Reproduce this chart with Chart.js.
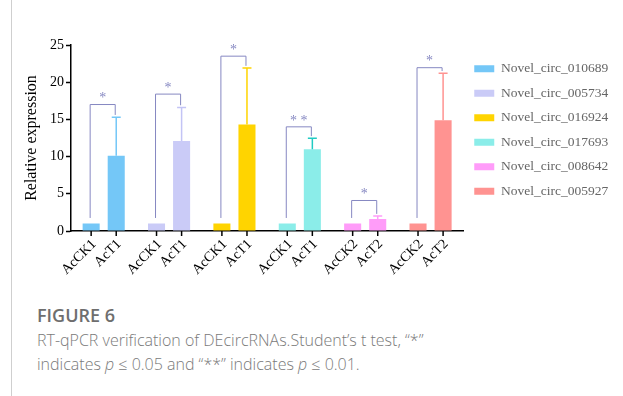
<!DOCTYPE html>
<html>
<head>
<meta charset="utf-8">
<script src="https://cdn.jsdelivr.net/npm/chart.js@4"></script>
<style>
  html, body { margin: 0; padding: 0; background: #fff; }
  body { width: 623px; height: 396px; position: relative; overflow: hidden; }
  #edge { position: absolute; left: 11px; top: 0; width: 1px; height: 396px; background: #cfcfcf; }
  #wrap { position: absolute; left: 0; top: 0; width: 623px; height: 295px; }
  #caption { position: absolute; left: 37px; top: 302px; font-family: "Open Sans", sans-serif; color: #7a7a7a; }
  #caption .fig { font-size: 18px; font-weight: 600; color: #6e6e6e; line-height: 26px; }
  #caption .txt { font-size: 16px; line-height: 24px; font-weight: 300; }
</style>
</head>
<body>
<div id="edge"></div>
<div id="wrap"><canvas id="qpcrChart" width="623" height="295"></canvas></div>
<div id="caption">
  <div class="fig">FIGURE 6</div>
  <div class="txt">RT-qPCR verification of DEcircRNAs.Student’s t test, “*”<br>indicates <i>p</i> ≤ 0.05 and “**” indicates <i>p</i> ≤ 0.01.</div>
</div>
<script>
// dados
const genes = ['Novel_circ_010689', 'Novel_circ_005734', 'Novel_circ_016924', 'Novel_circ_017693', 'Novel_circ_008642', 'Novel_circ_005927'];
const ckLabels = ['AcCK1', 'AcCK1', 'AcCK1', 'AcCK1', 'AcCK2', 'AcCK2'];
const tLabels = ['AcT1', 'AcT1', 'AcT1', 'AcT1', 'AcT2', 'AcT2'];
const ckValues = [1, 1, 1, 1, 1, 1];
const ckErrors = [0, 0, 0, 0, 0, 0];
const tValues = [10.1, 12.1, 14.3, 11.0, 1.6, 14.9];
const tErrors = [5.2, 4.5, 7.6, 1.45, 0.4, 6.3];
const sigMarks = ['*', '*', '*', '**', '*', '*'];
const sigHeights = [17.0, 18.4, 23.5, 14.0, 4.1, 21.95];
const yTicks = [0, 5, 10, 15, 20, 25];

// cores
const barColors = ['#74C7F7', '#CACBF7', '#FFD400', '#8BEDE9', '#FF9CF9', '#FF9391'];
const errColors = ['#74C7F7', '#C3C4F5', '#FFD400', '#20CBC3', '#FF9CF9', '#FF9391'];
const bracketColor = '#8688C2';
const serif = 'Liberation Serif';

// barras de erro, chaves de significância e rótulos do eixo x
const extras = {
    id: 'extras',
    afterDatasetsDraw(chart) {
        const ctx = chart.ctx;
        const y = chart.scales.y;
        const ck = chart.getDatasetMeta(0).data;
        const tr = chart.getDatasetMeta(1).data;
        const axisY = chart.chartArea.bottom;
        ctx.save();
        // erro
        [[ck, ckValues, ckErrors], [tr, tValues, tErrors]].forEach(([els, vals, errs]) => {
            els.forEach((el, i) => {
                if (!errs[i]) return;
                const top = y.getPixelForValue(vals[i] + errs[i]);
                ctx.strokeStyle = errColors[i];
                ctx.lineWidth = 1.5;
                ctx.beginPath();
                ctx.moveTo(el.x, el.y);
                ctx.lineTo(el.x, top);
                ctx.moveTo(el.x - 4.5, top);
                ctx.lineTo(el.x + 4.5, top);
                ctx.stroke();
            });
        });
        // chaves
        ck.forEach((el, i) => {
            const x1 = el.x - 1, x2 = tr[i].x - 1;
            const top = y.getPixelForValue(sigHeights[i]);
            const left = y.getPixelForValue(ckValues[i] + 0.75);
            const right = y.getPixelForValue(tValues[i] + tErrors[i] + 0.3);
            ctx.strokeStyle = bracketColor;
            ctx.lineWidth = 1;
            ctx.beginPath();
            ctx.moveTo(x1, left);
            ctx.lineTo(x1, top);
            ctx.lineTo(x2, top);
            ctx.lineTo(x2, right);
            ctx.stroke();
            ctx.fillStyle = bracketColor;
            ctx.font = '14px ' + serif;
            ctx.textAlign = 'center';
            ctx.textBaseline = 'middle';
            ctx.fillText(sigMarks[i].split('').join(' '), (x1 + x2) / 2, top - 6);
        });
        // ticks e rótulos do eixo x
        ctx.fillStyle = '#000';
        ctx.strokeStyle = '#000';
        ctx.lineWidth = 1.5;
        ctx.font = '14px ' + serif;
        [[ck, ckLabels], [tr, tLabels]].forEach(([els, labels]) => {
            els.forEach((el, i) => {
                ctx.beginPath();
                ctx.moveTo(el.x, axisY);
                ctx.lineTo(el.x, axisY + 5);
                ctx.stroke();
                ctx.save();
                ctx.translate(el.x + 3, axisY + 11);
                ctx.rotate(-Math.PI / 4);
                ctx.textAlign = 'right';
                ctx.textBaseline = 'middle';
                ctx.fillText(labels[i], 0, 0);
                ctx.restore();
            });
        });
        ctx.restore();
    }
};

const qpcrCtx = document.getElementById('qpcrChart').getContext('2d');
new Chart(qpcrCtx, {
    type: 'bar',
    data: {
        labels: genes,
        datasets: [
            { label: 'CK', data: ckValues, backgroundColor: barColors },
            { label: 'T', data: tValues, backgroundColor: barColors }
        ]
    },
    options: {
        responsive: false,
        animation: false,
        devicePixelRatio: 1,
        categoryPercentage: 0.767,
        barPercentage: 0.68,
        layout: { padding: { left: 14, top: 45, right: 10, bottom: 4 } },
        plugins: {
            tooltip: { enabled: false },
            legend: {
                position: 'right',
                align: 'start',
                title: { display: true, text: '', padding: 0, font: { size: 5 } },
                labels: {
                    boxWidth: 20,
                    boxHeight: 7,
                    padding: 11,
                    color: '#000',
                    font: { family: serif, size: 13.5 },
                    generateLabels: () => genes.map((g, i) => ({
                        text: g,
                        fillStyle: barColors[i],
                        strokeStyle: barColors[i],
                        lineWidth: 0,
                        hidden: false,
                        datasetIndex: 0
                    }))
                },
                onClick: () => {}
            }
        },
        scales: {
            x: {
                grid: { display: false, drawTicks: false },
                border: { color: '#000', width: 1.5 },
                ticks: { display: false },
                afterFit: s => { s.height = 60; }
            },
            y: {
                min: 0,
                max: 25,
                afterBuildTicks: s => { s.ticks = yTicks.map(v => ({ value: v })); },
                grid: { drawOnChartArea: false, drawTicks: true, tickLength: 5, color: '#000', tickWidth: 1.5 },
                border: { color: '#000', width: 1.5 },
                ticks: { color: '#000', font: { family: serif, size: 14 }, padding: 2 },
                title: { display: true, text: 'Relative expression', color: '#000', font: { family: serif, size: 16 }, padding: 8 },
                afterFit: s => { s.width = 57; }
            }
        }
    },
    plugins: [extras]
});
</script>
</body>
</html>
